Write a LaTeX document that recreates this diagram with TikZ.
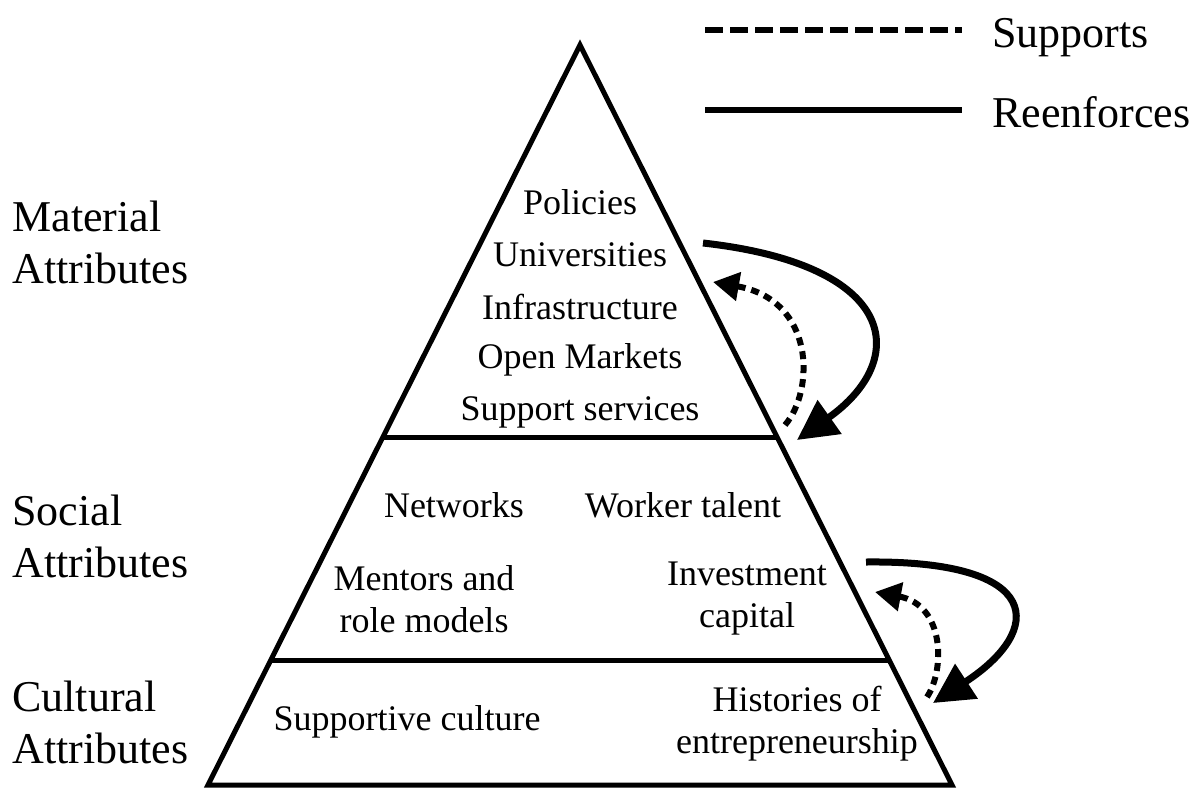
\documentclass[tikz,border=0pt]{standalone}
\usepackage{fontspec}
\setmainfont{LiberationSerif}[Extension=.ttf, UprightFont=*-Regular, BoldFont=*-Bold]
\usetikzlibrary{arrows.meta,calc}

\tikzset{
  inner/.style={font=\fontsize{18}{21}\selectfont, align=center, inner sep=0pt},
  attr/.style={font=\fontsize{22}{26}\selectfont, align=left, anchor=west, inner sep=0pt},
  legendtxt/.style={font=\fontsize{22}{26}\selectfont, anchor=base west, inner sep=0pt},
  reenf/.style={line width=3.5pt, -{Triangle[length=20pt,width=20pt]}},
  supp/.style={line width=3pt, dash pattern=on 4pt off 3pt, -{Triangle[length=13pt,width=14pt]}},
}

\begin{document}
\begin{tikzpicture}[x=0.5pt,y=-0.5pt]
        \useasboundingbox (0,0) rectangle (1201,789);
        % pyramid
        \coordinate (top) at (580,45);
        \coordinate (bl) at (208,785);
        \coordinate (br) at (952,785);
        \draw[line width=2.5pt] (top) -- (bl) -- (br) -- cycle;
        \coordinate (ml) at ($(top)!0.531!(bl)$);
        \coordinate (mr) at ($(top)!0.531!(br)$);
        \coordinate (cl) at ($(top)!0.832!(bl)$);
        \coordinate (cr) at ($(top)!0.832!(br)$);
        \draw[line width=2.5pt] (ml) -- (mr);
        \draw[line width=2.5pt] (cl) -- (cr);

        % material level
        \foreach \y/\t in {202/Policies, 255/Universities, 307/Infrastructure,
          360/Open Markets, 412/Support services} {
          \node[inner] (mat-\y) at (580,\y) {\t};
        }
        % social level
        \node[inner] (netw) at (454,505) {Networks};
        \node[inner] (work) at (683,505) {Worker talent};
        \node[inner] (ment) at (424,599) {Mentors and\\role models};
        \node[inner] (inv) at (747,599) {Investment\\capital};
        % cultural level
        \node[inner] (supcult) at (407,722) {Supportive culture};
        \node[inner] (hist) at (797,724) {Histories of\\entrepreneurship};

        % level names
        \node[attr] (matattr) at (12,242) {Material\\Attributes};
        \node[attr] (socattr) at (12,536) {Social\\Attributes};
        \node[attr] (culattr) at (12,722) {Cultural\\Attributes};

        % legend
        \coordinate (sa) at (705,30);
        \coordinate (sb) at (962,30);
        \coordinate (ra) at (705,110);
        \coordinate (rb) at (962,110);
        \draw[line width=3pt, dash pattern=on 9pt off 3.5pt] (sa) -- (sb);
        \draw[line width=3pt] (ra) -- (rb);
        \node[legendtxt] (supleg) at (992,47) {Supports};
        \node[legendtxt] (reileg) at (992,127) {Reenforces};

        % arrows between levels
        \coordinate (r1s) at (703,243);
        \coordinate (r1e) at (797,440);
        \coordinate (s1s) at (785,425);
        \coordinate (s1e) at (713,282);
        \coordinate (r2s) at (866,562);
        \coordinate (r2e) at (933,703);
        \coordinate (s2s) at (927,697);
        \coordinate (s2e) at (875,592);
        \draw[reenf] (r1s) .. controls (900,265) and (910,360) .. (r1e);
        \draw[supp] (s1s) .. controls (815,390) and (815,300) .. (s1e);
        \draw[reenf] (r2s) .. controls (1045,560) and (1045,630) .. (r2e);
        \draw[supp] (s2s) .. controls (945,670) and (945,605) .. (s2e);
\end{tikzpicture}
\end{document}
